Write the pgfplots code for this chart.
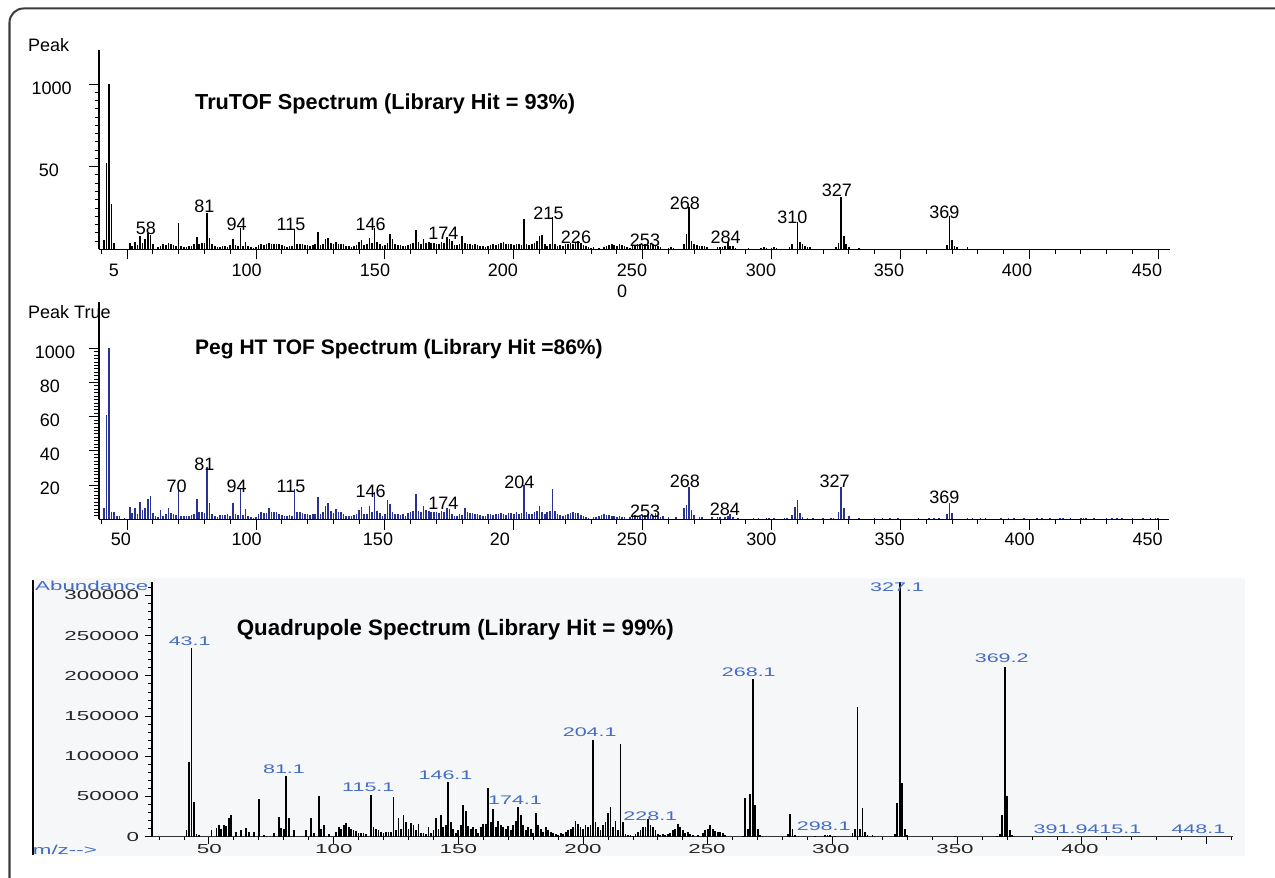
\documentclass[border=0pt]{standalone}
\usepackage{fontspec}
\setmainfont{Liberation Sans}
\newfontfamily\widefont[FakeStretch=1.72]{Liberation Sans}
\usepackage{pgfplots}
\pgfplotsset{compat=1.18}

\definecolor{pegblue}{RGB}{40,50,145}
\definecolor{lblblue}{RGB}{68,108,196}
\definecolor{panelbg}{RGB}{245,247,249}
\definecolor{framegray}{RGB}{60,60,60}

\newcommand\tof{\fontsize{18bp}{20bp}\selectfont}
\newcommand\ttl[1]{\fontsize{#1bp}{#1bp}\selectfont\bfseries}
\newcommand\qd{\widefont\fontsize{13bp}{15bp}\selectfont}
\newcommand\ql{\widefont\fontsize{12.5bp}{15bp}\selectfont}

\pgfplotsset{
  spec/.style={
    scale only axis, anchor=south west, clip=false,
    axis x line*=bottom, axis y line*=left,
    axis line style={-, line width=1.1bp, black},
    every outer x axis line/.append style={-},
    every outer y axis line/.append style={-},
    tick align=outside, tick style={black, line width=0.9bp},
    xticklabel=\empty, yticklabel=\empty,
    scaled x ticks=false, scaled y ticks=false,
  },
}

\begin{document}
\begin{tikzpicture}
\useasboundingbox (0,0) rectangle (1275bp,878bp);
\fill[white] (0,0) rectangle (1275bp,878bp);

% frame and bottom panel background (pixel coordinates, y downwards)
\begin{scope}[x=1bp, y=-1bp, shift={(0bp,878bp)}]
  \draw[framegray, line width=2bp, rounded corners=14bp] (9.5,878) -- (9.5,8.5) -- (1275,8.5);
  \fill[panelbg] (35,578) rectangle (1245,856);
  \draw[black, line width=2bp] (32.7,580) -- (32.7,855);
\end{scope}

% ---------- TruTOF ----------
\begin{axis}[spec, at={(99bp,628.7bp)}, width=1071bp, height=199.3bp,
  xmin=39.09, xmax=454.6, ymin=0, ymax=120.6,
  xtick={50,100,...,450}, minor xtick={40,50,...,450},
  ytick={50,100}, minor ytick={5,10,...,100},
  major tick length=10bp, minor tick length=4.5bp]
\addplot[ycomb, mark=none, black, line width=1.6bp] coordinates {
(41,5.6) (42,52) (43,100) (44,27.4) (45,3.8)
(51,3.6) (52,2.0) (53,4.6) (54,2.5) (55,8.0) (56,4.0) (57,6.0) (58,9.7) (59,8.5) (60,3.0)
(62,1.5) (63,2.0) (64,3.5) (65,2.5) (66,4.0) (67,3.0) (68,2.5) (69,2.0) (70,16.1)
(71,2.0) (72,1.5) (73,1.5) (74,2.0) (75,2.0) (76,3.0) (77,7.6) (78,3.5) (79,4.0) (80,4.0)
(81,22.2) (82,7.0) (83,3.0) (84,2.0) (85,1.5) (86,1.5) (87,2.0) (88,2.0) (89,1.5) (90,2.5)
(91,6.5) (92,2.5) (93,2.0) (94,12.7) (95,2.0) (96,4.5) (97,2.0) (98,1.5) (99,1.0) (100,1.5)
(101,2.5) (102,3.0) (103,2.5) (104,3.0) (105,4.0) (106,3.0) (107,3.5) (108,3.0) (109,3.0) (110,2.5)
(111,2.0) (112,1.5) (113,2.0) (114,2.0) (115,12.1) (116,3.5) (117,3.0) (118,3.0) (119,2.5) (120,2.5)
(121,2.0) (122,2.5) (123,3.0) (124,10.3) (125,2.5) (126,3.0) (127,6.0) (128,7.0) (129,4.0) (130,3.0)
(131,4.5) (132,3.5) (133,3.5) (134,3.0) (135,2.0) (136,2.0) (137,1.5) (138,2.0) (139,2.5) (140,4.5)
(141,5.5) (142,2.5) (143,3.0) (144,7.0) (145,4.0) (146,12.7) (147,4.6) (148,3.5) (149,2.0) (150,2.5)
(151,4.0) (152,9.5) (153,6.0) (154,3.5) (155,2.5) (156,2.5) (157,2.0) (158,2.0) (159,2.5) (160,3.5)
(161,4.0) (162,11.5) (163,4.5) (164,3.5) (165,6.0) (166,4.0) (167,4.5) (168,4.0) (169,4.0) (170,3.5)
(171,3.0) (172,4.5) (173,4.0) (174,7.5) (175,6.0) (176,5.0) (177,2.5) (178,2.5) (179,3.0) (180,8.0)
(181,4.0) (182,3.5) (183,3.0) (184,2.5) (185,3.0) (186,2.5) (187,2.0) (188,2.0) (189,1.5) (190,2.0)
(191,2.5) (192,3.0) (193,2.5) (194,3.0) (195,4.0) (196,4.5) (197,3.5) (198,3.0) (199,3.5) (200,2.5)
(201,3.5) (202,3.0) (203,2.5) (204,18.3) (205,3.0) (206,2.5) (207,3.5) (208,4.0) (209,5.0) (210,7.9)
(211,8.5) (212,3.0) (213,2.0) (214,3.5) (215,19.7) (216,3.5) (217,2.0) (218,2.5) (219,2.0) (220,3.0)
(221,3.5) (222,4.0) (223,3.0) (224,4.5) (225,5.0) (226,4.0) (227,2.5) (228,2.0) (229,1.5) (230,1.0)
(231,1.5) (233,1.0) (235,1.5) (236,2.0) (237,2.5) (238,3.0) (239,2.5) (240,2.0)
(241,3.0) (242,2.5) (243,2.0) (244,1.5) (245,1.0) (246,2.0) (247,2.5) (248,3.0) (249,3.5) (250,2.5)
(251,3.0) (252,2.5) (253,4.0) (254,3.0) (255,2.5) (256,2.0) (257,1.5) (260,1.0) (261,1.5) (262,1.0)
(266,3.0) (267,9.5) (268,25.8) (269,5.0) (270,3.0) (271,2.5) (272,2.0) (273,2.0) (274,2.0) (275,1.5)
(279,1.5) (280,1.5) (281,1.5) (282,2.0) (283,4.6) (284,2.2) (285,2.0) (286,1.0)
(291,1.0) (296,1.0) (297,1.5) (298,1.0) (300,1.0) (301,1.5) (302,1.0)
(307,1.5) (308,3.0) (310,16.7) (311,4.6) (312,3.0) (313,2.0) (314,1.5) (315,1.5)
(325,1.5) (326,3.6) (327,31.8) (328,8.0) (329,3.0) (330,1.5) (334,1.0)
(368,2.6) (369,20.2) (370,5.6) (371,2.0) (372,1.5) (376,1.5)
};
\end{axis}

% ---------- Peg HT TOF ----------
\begin{axis}[spec, at={(99bp,358.7bp)}, width=1070bp, height=217.3bp,
  xmin=39.09, xmax=454.2, ymin=0, ymax=127.1,
  xtick={50,100,...,450}, minor xtick={40,50,...,450},
  ytick={20,40,60,80,100}, minor ytick={2,4,...,100},
  major tick length=10.5bp, minor tick length=5bp]
\addplot[ycomb, mark=none, pegblue, line width=1.6bp] coordinates {
(41,6.4) (42,61) (43,100) (44,4) (45,4) (46,2) (47,2) (49,1)
(51,7.4) (52,3.5) (53,6.8) (54,3) (55,9.9) (56,5.5) (57,6.8) (58,11.9) (59,13.6) (60,3.9)
(61,2) (62,1.5) (63,5.5) (64,2) (65,3) (66,6.8) (67,3.5) (68,3) (69,2.5) (70,17.5)
(71,2) (72,2) (73,2) (74,2) (75,2.5) (76,3) (77,11.7) (78,4) (79,4.5) (80,3.5)
(81,30.8) (82,9.4) (83,3) (84,2) (85,1.5) (86,2.5) (87,2.5) (88,2.5) (89,3) (90,2)
(91,9.4) (92,3) (93,2.5) (94,18.1) (95,2.5) (96,5.8) (97,2) (98,1.5) (99,1) (100,1.5)
(101,3) (102,4) (103,3.5) (104,3.5) (105,6.4) (106,4) (107,4.5) (108,4) (109,3) (110,2.5)
(111,2) (112,2) (113,2.5) (114,2) (115,17.5) (116,4.5) (117,4) (118,3.5) (119,3) (120,3)
(121,2.5) (122,3) (123,3) (124,12.9) (125,3) (126,4) (127,8) (128,9.4) (129,5) (130,3.5)
(131,6) (132,4.5) (133,4.5) (134,3) (135,2) (136,2) (137,2) (138,2.5) (139,3) (140,5.5)
(141,7) (142,3) (143,3) (144,7.8) (145,4) (146,15.8) (147,5) (148,3.5) (149,2) (150,3)
(151,11.3) (152,8.8) (153,4) (154,3) (155,3) (156,2.5) (157,3) (158,2) (159,3.5) (160,4)
(161,5) (162,14.8) (163,5) (164,4) (165,7.8) (166,5.5) (167,5) (168,4.5) (169,4) (170,4)
(171,3.5) (172,5) (173,4) (174,6.5) (175,6) (176,3) (177,2) (178,2) (179,3) (180,2.5)
(181,6.4) (182,4) (183,3.5) (184,3.5) (185,3) (186,3) (187,2.5) (188,2) (189,2) (190,3)
(191,3) (192,2.5) (193,3) (194,3) (195,3.5) (196,3) (197,2.5) (198,3.5) (199,3.5) (200,3)
(201,4) (202,3) (203,3.5) (204,20) (205,4) (206,3) (207,3) (208,4) (209,5) (210,7.8)
(211,4) (212,3) (213,4.5) (214,5) (215,17.5) (216,5) (217,3) (218,2.5) (219,2) (220,2.5)
(221,3) (222,3.5) (223,4.5) (224,3.5) (225,3.5) (226,2.5) (227,2) (228,1.5) (229,1)
(231,1.5) (232,1.5) (233,2) (234,2.5) (235,3) (236,2.5) (237,2.5) (238,2) (239,2) (240,1.5)
(241,2) (242,1.5) (243,1.5) (245,1.5) (246,2) (247,2.5) (248,2) (249,2.5) (250,2)
(251,2.5) (252,3) (253,2.5) (254,2) (255,3.5) (256,2) (257,1.5) (258,2) (260,1.5) (263,1.5)
(266,6.4) (267,8.4) (268,19.1) (269,5.5) (270,2.5) (272,1.5) (273,1.5) (277,1.5) (279,1.5) (280,1.5)
(282,1.5) (283,2) (284,3) (285,1.5) (287,1) (293,1) (295,1) (298,1) (299,1) (301,1) (305,1) (306,1)
(308,2.5) (309,7.4) (310,11.3) (311,3.5) (312,1.5) (314,1) (316,1) (320,1) (323,1) (324,1)
(326,4.5) (327,19.1) (328,6.4) (330,2) (334,1) (340,1) (343,1) (346,1) (349,1)
(357,1) (361,1) (363,1) (365,1) (368,2.9) (369,9.4) (370,3.5)
(376,1) (378,1) (381,1) (383,1) (389,1) (392,1) (394,1) (398,1) (403,1) (405,1) (408,1)
(412,1) (413,1) (416,1) (420,1) (421,1) (422,1) (425,1) (430,1) (432,1) (434,1) (436,1)
(440,1) (444,1) (447,1) (449,1) (450,1)
};
\end{axis}

% ---------- Quadrupole ----------
\begin{axis}[spec, at={(151.7bp,41.3bp)}, width=1081.6bp, height=254.9bp,
  xmin=27.06, xmax=460.7, ymin=0, ymax=317000,
  x axis line style={line width=1.2bp, black!80},
  y axis line style={line width=1.6bp, black},
  xtick={50,100,...,450}, minor xtick={30,40,...,460},
  ytick={0,50000,100000,150000,200000,250000,300000},
  minor ytick={10000,20000,30000,40000,60000,70000,80000,90000,110000,120000,130000,140000,
    160000,170000,180000,190000,210000,220000,230000,240000,260000,270000,280000,290000,310000},
  major tick length=7bp, minor tick length=3.5bp]
\addplot[ycomb, mark=none, black, line width=1.8bp] coordinates {
(41,8300) (42,92450) (43,234250) (44,43500) (45,3000) (46,2000)
(51,8300) (53,10400) (54,14500) (55,9000) (56,14500) (57,13000) (58,22800) (59,27000) (61,6000)
(63,8300) (65,11200) (66,6000) (68,6000) (70,46400) (72,2000) (76,4000) (78,24900) (79,10400)
(80,9000) (81,75900) (82,22800) (84,8000) (89,8300) (91,23600) (92,4000) (94,50600) (95,10000)
(96,14500) (98,3000) (101,6000) (102,12000) (103,9000) (104,14000) (105,16600) (106,12000)
(107,10000) (108,8000) (109,7000) (110,5000) (111,4000) (112,4000) (113,3000)
(115,51800) (116,12000) (117,10000) (118,8000) (119,6000) (120,5000) (121,6000) (122,6000)
(123,6000) (124,49750) (125,8000) (126,22800) (127,10000) (128,27000) (129,18000) (130,10000)
(131,17000) (132,15000) (133,8000) (134,16000) (135,5000) (136,4000) (137,3000) (138,12000)
(139,4000) (140,8000) (141,22800) (142,10000) (143,27000) (144,12000) (145,15000) (146,68400)
(147,18000) (148,10000) (149,5000) (150,8000) (151,15000) (152,39400) (153,32000) (154,13000)
(155,10000) (156,12000) (157,10000) (158,5000) (159,12000) (160,16000) (161,16000) (162,60100)
(163,18000) (164,34000) (165,12000) (166,20000) (167,14000) (168,12000) (169,10000) (170,13000)
(171,8000) (172,14000) (173,20000) (174,36500) (175,27000) (176,15000) (177,8000) (178,12000)
(179,10000) (180,5000) (181,29850) (182,15000) (183,10000) (184,6000) (185,12000) (186,8000)
(187,6000) (188,5000) (189,3000) (190,2000) (191,4000) (192,3000) (193,6000) (194,8000)
(195,10000) (196,12000) (197,19900) (198,16000) (199,12000) (200,10000) (201,14000) (202,12000)
(203,14000) (204,120200) (205,18000) (206,12000) (207,8000) (208,14000) (209,18000) (210,30000)
(211,36500) (212,12000) (213,20000) (214,8000) (215,115250) (216,18650) (217,3000) (218,2000)
(219,2000) (220,1000) (221,3000) (222,6000) (223,8000) (224,12000) (225,12000) (226,22000)
(227,15000) (228,12000) (229,8000) (230,3000) (231,2000) (232,3000) (233,2000) (234,3000)
(235,5000) (236,8000) (237,10000) (238,16000) (239,12000) (240,8000) (241,4000) (242,6000)
(243,3000) (244,2000) (246,2000) (248,5000) (249,8000) (250,10000) (251,15000) (252,9000)
(253,7000) (254,6000) (255,6000) (256,4000) (257,2000) (264,1000) (265,47700) (266,10000)
(267,53000) (268,195700) (269,39400) (270,10000) (271,2000) (282,3000) (283,28200) (284,10000)
(285,2000) (293,1000) (297,1500) (298,2500) (299,2000) (301,1000) (308,4000) (309,10000)
(310,161700) (311,10000) (312,35200) (313,6000) (314,2000) (316,2000) (325,3000) (326,41500)
(327,317000) (328,66300) (329,10000) (330,2000) (349,1000) (366,1000) (367,3000) (368,27000)
(369,211400) (370,51000) (371,8000) (372,1500)
};
\end{axis}

% ---------- texts (pixel coordinates, y downwards) ----------
\begin{scope}[x=1bp, y=-1bp, shift={(0bp,878bp)}, every node/.style={inner sep=0pt}]
  % TruTOF
  \node[anchor=west] at (28,45) {\tof Peak};
  \node at (51.6,88) {\tof 1000};
  \node at (49,170.5) {\tof 50};
  \foreach \x/\t in {114/5, 246.7/100, 375/150, 503/200, 632/250, 761/300, 889/350, 1017/400, 1147/450}
    \node at (\x,270.7) {\tof \t};
  \node[anchor=west] at (617,291) {\tof 0};
  \foreach \x/\y/\t in {146/228/58, 204.3/206.7/81, 236.7/224.3/94, 291/224.3/115, 370.7/224.3/146,
      443.3/233.3/174, 548.5/213/215, 576/237/226, 645/240/253, 684.8/203.3/268, 725.7/237.3/284,
      792.4/217.7/310, 836.8/190/327, 944.4/212.3/369}
    \node at (\x,\y) {\tof \t};
  \node[anchor=base west] at (195,110) {\ttl{21.7}TruTOF Spectrum (Library Hit = 93\%)};

  % Peg HT TOF
  \node[anchor=west] at (28,311.7) {\tof Peak True};
  \node at (55,352.5) {\tof 1000};
  \foreach \y/\t in {386/80, 420.5/60, 454.5/40, 488.5/20}
    \node at (50,\y) {\tof \t};
  \foreach \x/\t in {121/50, 246.7/100, 378/150, 500/20, 632/250, 761.4/300, 889.7/350, 1019.7/400, 1147.6/450}
    \node at (\x,539.3) {\tof \t};
  \foreach \x/\y/\t in {176.7/486.7/70, 204.3/464.3/81, 236.7/486/94, 291/486.7/115, 370.7/491.7/146,
      443.3/503.3/174, 519.3/482.7/204, 645.2/511/253, 684.8/481.7/268, 724.8/509.3/284,
      834.6/481.7/327, 944.4/497.3/369}
    \node at (\x,\y) {\tof \t};
  \node[anchor=base west] at (195,355) {\ttl{21}Peg HT TOF Spectrum (Library Hit =86\%)};

  % Quadrupole
  \node[anchor=west, text=lblblue] at (35,586) {\qd Abundance};
  \node[anchor=west, text=lblblue] at (32.7,850) {\qd m/z-->};
  \foreach \y/\t in {595/300000, 635.7/250000, 675.7/200000, 715.7/150000, 755.7/100000, 796/50000, 836.7/0}
    \node[anchor=east, text=black!85] at (139.3,\y) {\qd \t};
  \foreach \x/\t in {209.3/50, 333.8/100, 458.3/150, 583/200, 707/250, 830.8/300, 955/350, 1080/400}
    \node[text=black!85] at (\x,849.3) {\qd \t};
  \foreach \x/\y/\t in {189.7/641/43.1, 284/769.3/81.1, 368.3/787.7/115.1, 445.5/775/146.1,
      515/800/174.1, 589.7/732.7/204.1, 650.3/816.7/228.1, 748.8/672.5/268.1, 823.7/826.7/298.1,
      897/587.3/327.1, 1001.7/658.5/369.2, 1087.5/829/391.9415.1, 1198.4/829/448.1}
    \node[text=lblblue] at (\x,\y) {\ql \t};
  \node[anchor=base west] at (236.7,636) {\ttl{22.3}Quadrupole Spectrum (Library Hit = 99\%)};
\end{scope}
\end{tikzpicture}
\end{document}
